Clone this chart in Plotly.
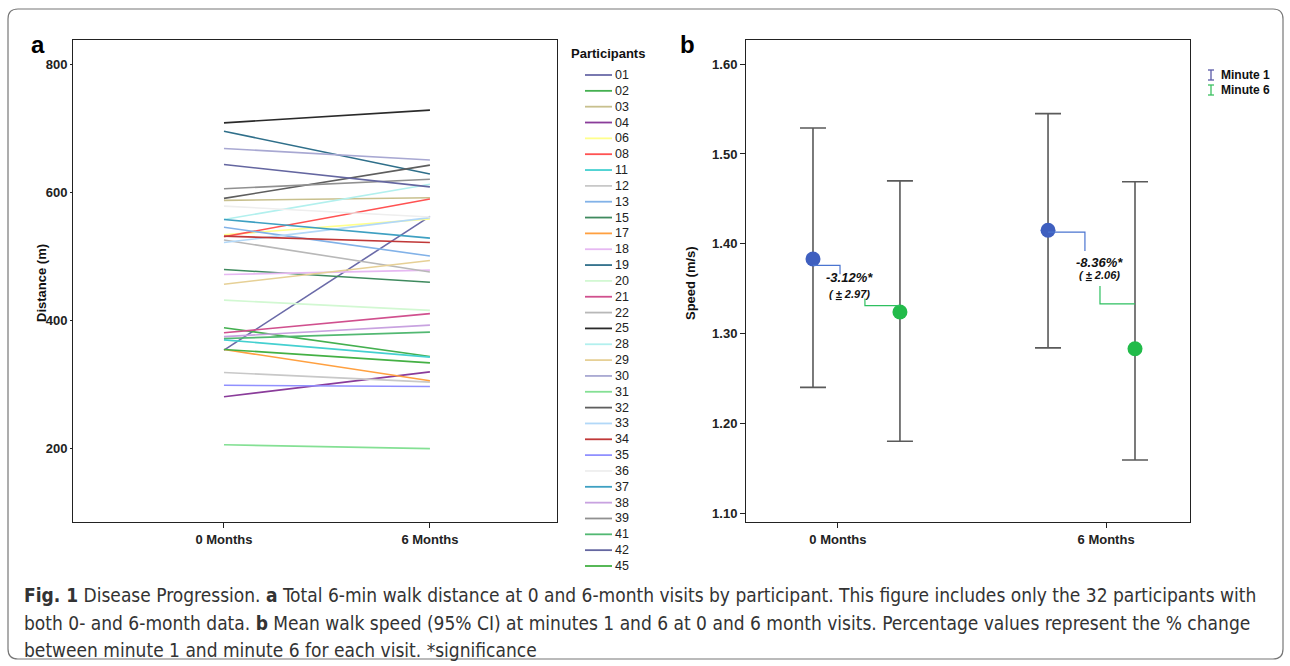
import plotly.graph_objects as go

W, H = 1290, 666

# ---------------- Panel a data ----------------
participants = ["01", "02", "03", "04", "06", "08", "11", "12", "13", "15", "17",
                "18", "19", "20", "21", "22", "25", "28", "29", "30", "31", "32",
                "33", "34", "35", "36", "37", "38", "39", "41", "42", "45"]
dist_0m = [353, 388, 587, 280, 533, 530, 369, 318, 545, 479, 354,
           471, 695, 431, 380, 525, 708, 557, 456, 668, 205, 590,
           521, 531, 298, 578, 557, 374, 605, 371, 643, 354]
dist_6m = [562, 343, 591, 319, 558, 589, 342, 303, 500, 459, 305,
           478, 628, 415, 410, 475, 728, 612, 493, 650, 199, 642,
           560, 521, 296, 561, 528, 392, 620, 381, 608, 333]
part_colors = ["#6a6aa8", "#44b050", "#c8c08e", "#8a3c9a", "#ffff8c", "#ff5252",
               "#44d0d0", "#c8c8c8", "#82b2e8", "#3f8a5e", "#ffa040", "#e6b8f2",
               "#2f6f8a", "#d2f8d2", "#d0508e", "#b8b8b8", "#2a2a2a", "#b2f0ee",
               "#e6d096", "#a8a8d2", "#84e094", "#5e5e5e", "#b2d8f8", "#c03838",
               "#9090ff", "#eeeeee", "#3ea0c2", "#c8a2e0", "#909090", "#52b872",
               "#6466a0", "#44b044"]
visits = ["0 Months", "6 Months"]
dist_ticks = [200, 400, 600, 800]

# ---------------- Panel b data ----------------
minutes = ["Minute 1", "Minute 6"]
speed_mean = {"Minute 1": [1.383, 1.415], "Minute 6": [1.324, 1.283]}
speed_lo = {"Minute 1": [1.240, 1.284], "Minute 6": [1.180, 1.159]}
speed_hi = {"Minute 1": [1.529, 1.545], "Minute 6": [1.470, 1.469]}
pct_change = ["-3.12%*", "-8.36%*"]
pct_sd = ["2.97", "2.06"]
speed_ticks = [1.10, 1.20, 1.30, 1.40, 1.50, 1.60]
minute_colors = {"Minute 1": "#3f5fbf", "Minute 6": "#22bb4a"}
legend_colors = {"Minute 1": "#5a5aa8", "Minute 6": "#3cc060"}

FONT = "Arial, Liberation Sans, Helvetica, sans-serif"


def px(x):
    return x / W


def py(y):
    return 1 - y / H


def note(x, y, text, size, color="#111", xanchor="center", **kw):
    return dict(x=px(x), y=py(y), xref="paper", yref="paper", showarrow=False,
                xanchor=xanchor, yanchor="middle", text=text,
                font=dict(family=kw.pop("family", FONT), size=size, color=color), **kw)


fig = go.Figure()

# ---- Panel a lines ----
for pid, a0, a6, col in zip(participants, dist_0m, dist_6m, part_colors):
    fig.add_trace(go.Scatter(
        x=[0, 1], y=[a0, a6], mode="lines", name=pid,
        line=dict(color=col, width=1.6), showlegend=False,
        xaxis="x", yaxis="y", hoverinfo="name+y"))

# ---- Panel b error bars ----
dodge = {"Minute 1": -0.185, "Minute 6": 0.185}
for m in minutes:
    xs = [g + dodge[m] for g in range(len(visits))]
    mean = speed_mean[m]
    fig.add_trace(go.Scatter(
        x=xs, y=mean, mode="markers", name=m, showlegend=False,
        marker=dict(size=15, color=minute_colors[m]),
        error_y=dict(type="data", symmetric=False,
                     array=[h - v for h, v in zip(speed_hi[m], mean)],
                     arrayminus=[v - l for l, v in zip(speed_lo[m], mean)],
                     color="#5a5a5a", thickness=1.6, width=13),
        xaxis="x2", yaxis="y2"))

# ---- Panel b bracket annotations (layout relative to marks) ----
# per visit: (blue horizontal dy, blue end dx, blue drop, green dy, green end dx, green rise)
bracket_style = [(-0.007, 0.115, -0.010, 0.007, -0.149, 0.008),
                 (-0.002, 0.157, -0.021, 0.050, -0.149, 0.020)]
text_pos = [(-0.028, 1.362, 1.344), (1.036, 1.379, 1.365)]
shapes = []
annotations = []
for g, (bdy, bdx, bdrop, gdy, gdx, grise) in enumerate(bracket_style):
    x1 = g + dodge["Minute 1"]
    x6 = g + dodge["Minute 6"]
    yb = speed_mean["Minute 1"][g] + bdy
    yg = speed_mean["Minute 6"][g] + gdy
    shapes.append(dict(type="path", xref="x2", yref="y2",
                       path=f"M {x1} {yb} L {x1 + bdx} {yb} L {x1 + bdx} {yb + bdrop}",
                       line=dict(color="#4a74d0", width=1.2)))
    shapes.append(dict(type="path", xref="x2", yref="y2",
                       path=f"M {x6} {yg} L {x6 + gdx} {yg} L {x6 + gdx} {yg + grise}",
                       line=dict(color="#2ec060", width=1.2)))
    tx, ty1, ty2 = text_pos[g]
    annotations.append(dict(x=tx, y=ty1, xref="x2", yref="y2", showarrow=False,
                            xanchor="center", yanchor="middle",
                            text=f"<b><i>{pct_change[g]}</i></b>",
                            font=dict(family=FONT, size=13, color="#111")))
    annotations.append(dict(x=tx, y=ty2, xref="x2", yref="y2", showarrow=False,
                            xanchor="center", yanchor="middle",
                            text=f"<b><i>( <u>±</u> {pct_sd[g]})</i></b>",
                            font=dict(family=FONT, size=11, color="#111")))

# ---- Panel a manual legend ----
annotations.append(note(608, 53, "<b>Participants</b>", 13))
step = (566 - 75) / (len(participants) - 1)
for i, (pid, col) in enumerate(zip(participants, part_colors)):
    yy = 75 + i * step
    shapes.append(dict(type="line", xref="paper", yref="paper",
                       x0=px(585), x1=px(612), y0=py(yy), y1=py(yy),
                       line=dict(color=col, width=1.8)))
    annotations.append(note(613, yy, pid, 12.5, color="#222", xanchor="left"))

# ---- Panel b manual legend ----
for i, m in enumerate(minutes):
    yy = 75 + i * 15
    c = legend_colors[m]
    shapes.append(dict(type="line", xref="paper", yref="paper",
                       x0=px(1211), x1=px(1211), y0=py(yy - 5), y1=py(yy + 5),
                       line=dict(color=c, width=1.3)))
    for dy in (-5, 5):
        shapes.append(dict(type="line", xref="paper", yref="paper",
                           x0=px(1208), x1=px(1214), y0=py(yy + dy), y1=py(yy + dy),
                           line=dict(color=c, width=1.3)))
    annotations.append(note(1219, yy, f"<b>{m}</b>", 12, xanchor="left"))

# ---- Panel labels, axis titles ----
annotations += [
    note(38, 45, "<b>a</b>", 24, color="#000"),
    note(687, 45, "<b>b</b>", 24, color="#000"),
    note(41, 283, "<b>Distance (m)</b>", 13, textangle=-90),
    note(690, 283, "<b>Speed (m/s)</b>", 13, textangle=-90),
]

# ---- Caption ----
caption_lines = [
    "<b>Fig. 1</b> Disease Progression. <b>a</b> Total 6-min walk distance at 0 and 6-month visits by participant. This figure includes only the 32 participants with",
    "both 0- and 6-month data. <b>b</b> Mean walk speed (95% CI) at minutes 1 and 6 at 0 and 6 month visits. Percentage values represent the % change",
    "between minute 1 and minute 6 for each visit. *significance",
]
for i, line in enumerate(caption_lines):
    annotations.append(note(22, 595 + i * 27.5, line, 19, color="#333", xanchor="left",
                            family="Liberation Sans Narrow, Arial Narrow, DejaVu Sans Condensed, sans-serif"))

# ---- Outer rounded frame ----
r = 10
x0, x1, y0, y1 = 8, 1283, 9, 659
frame = (f"M {px(x0 + r)} {py(y0)} L {px(x1 - r)} {py(y0)} Q {px(x1)} {py(y0)} {px(x1)} {py(y0 + r)} "
         f"L {px(x1)} {py(y1 - r)} Q {px(x1)} {py(y1)} {px(x1 - r)} {py(y1)} "
         f"L {px(x0 + r)} {py(y1)} Q {px(x0)} {py(y1)} {px(x0)} {py(y1 - r)} "
         f"L {px(x0)} {py(y0 + r)} Q {px(x0)} {py(y0)} {px(x0 + r)} {py(y0)} Z")
shapes.append(dict(type="path", xref="paper", yref="paper", path=frame,
                   line=dict(color="#777", width=1.2)))

axis_common = dict(showline=True, mirror=True, linecolor="#222", linewidth=1,
                   showgrid=False, zeroline=False, ticks="outside",
                   tickcolor="#222", tickfont=dict(family=FONT, size=13, color="#222"))

fig.update_layout(
    width=W, height=H, margin=dict(l=0, r=0, t=0, b=0),
    paper_bgcolor="white", plot_bgcolor="white", showlegend=False,
    xaxis=dict(domain=[px(73), px(557)], range=[-0.733, 1.617], ticklen=5,
               tickvals=[0, 1], ticktext=[f"<b>{v}</b>" for v in visits], **axis_common),
    yaxis=dict(domain=[py(522), py(40)], range=[84.4, 837.5], ticklen=2,
               tickvals=dist_ticks, ticktext=[f"<b>{v}</b>" for v in dist_ticks], **axis_common),
    xaxis2=dict(domain=[px(746), px(1190)], range=[-0.470, 1.419], anchor="y2", ticklen=5,
                tickvals=[-0.079, 1.062], ticktext=[f"<b>{v}</b>" for v in visits], **axis_common),
    yaxis2=dict(domain=[py(522), py(40)], range=[1.09, 1.627], anchor="x2", ticklen=5,
                tickvals=speed_ticks, ticktext=[f"<b>{v:.2f}</b>" for v in speed_ticks], **axis_common),
    shapes=shapes, annotations=annotations,
)

fig.write_html("out.html", config={"displayModeBar": False},
               post_script="document.body.style.margin='0';")
